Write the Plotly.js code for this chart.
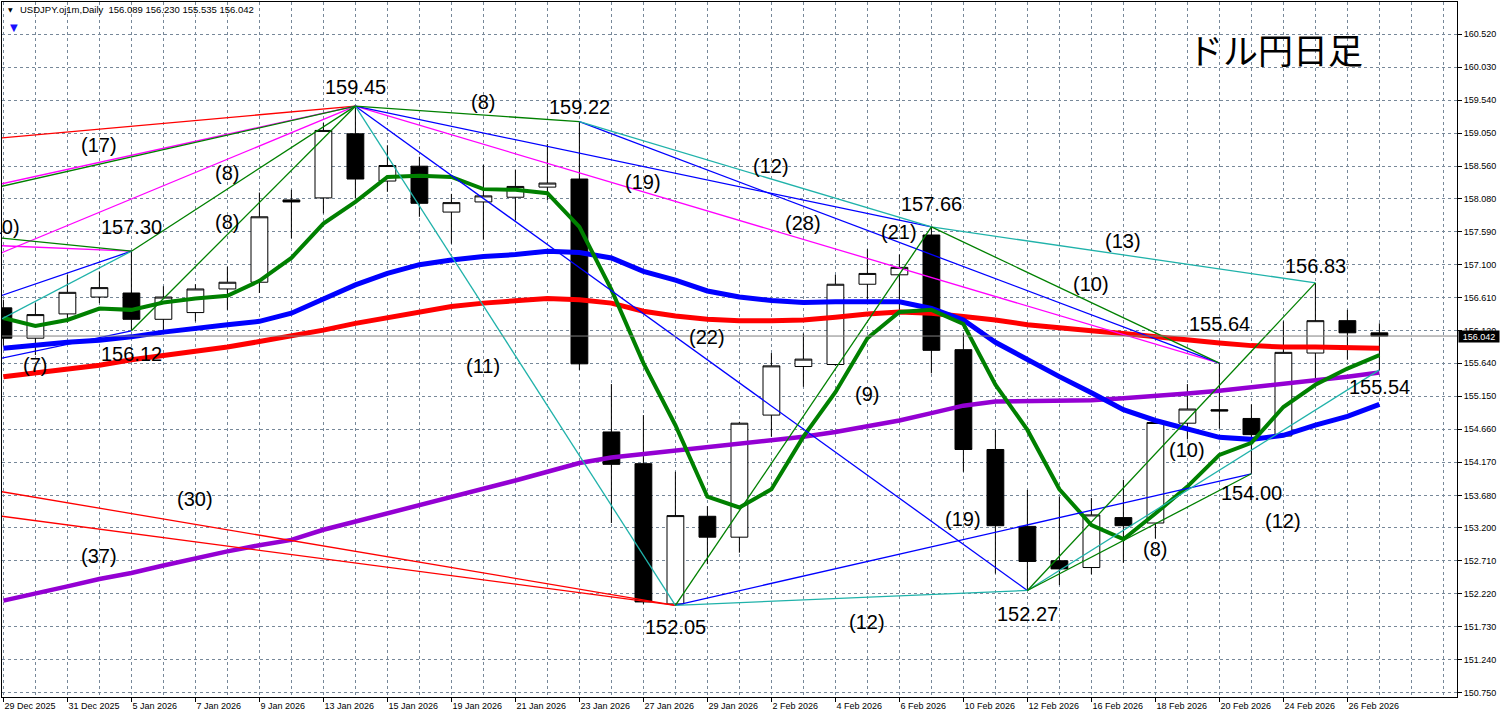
<!DOCTYPE html>
<html><head><meta charset="utf-8">
<script src="https://cdn.plot.ly/plotly-3.0.1.min.js"></script>
<style>html,body{margin:0;padding:0;background:#fff;} #chart{width:1503px;height:718px;}</style>
</head><body><div id="chart"></div>
<script>
// ---- data ----
const dates = ['29 Dec 2025','30 Dec 2025','31 Dec 2025','2 Jan 2026','5 Jan 2026','6 Jan 2026','7 Jan 2026','8 Jan 2026','9 Jan 2026','12 Jan 2026','13 Jan 2026','14 Jan 2026','15 Jan 2026','16 Jan 2026','19 Jan 2026','20 Jan 2026','21 Jan 2026','22 Jan 2026','23 Jan 2026','26 Jan 2026','27 Jan 2026','28 Jan 2026','29 Jan 2026','30 Jan 2026','2 Feb 2026','3 Feb 2026','4 Feb 2026','5 Feb 2026','6 Feb 2026','9 Feb 2026','10 Feb 2026','11 Feb 2026','12 Feb 2026','13 Feb 2026','16 Feb 2026','17 Feb 2026','18 Feb 2026','19 Feb 2026','20 Feb 2026','23 Feb 2026','24 Feb 2026','25 Feb 2026','26 Feb 2026','27 Feb 2026'];
const open  = [156.46,156.01,156.37,156.62,156.68,156.29,156.39,156.74,156.84,158.06,158.09,159.04,158.34,158.56,157.88,158.03,158.10,158.25,158.37,154.62,154.15,152.07,153.37,153.06,154.87,155.59,155.62,156.81,156.95,157.54,155.84,154.36,153.22,152.71,152.61,153.35,153.27,154.75,154.95,154.82,154.56,155.79,156.27,156.089];
const high  = [156.58,156.53,156.95,157.00,157.30,156.78,156.81,157.07,158.17,158.21,159.20,159.45,158.87,158.70,158.15,158.58,158.51,158.89,159.22,155.33,154.87,154.03,153.52,154.77,155.79,156.08,156.95,157.33,157.25,157.66,156.08,154.65,153.76,153.66,153.64,153.91,154.78,155.33,155.64,155.03,156.26,156.83,156.43,156.230];
const low   = [155.90,155.76,156.24,156.53,156.12,156.13,156.26,156.43,156.68,157.49,157.86,158.08,158.18,157.81,157.41,157.47,157.76,158.06,155.54,153.27,152.07,152.05,152.66,152.83,154.55,155.29,155.60,156.58,156.43,155.49,154.03,152.52,152.27,152.35,152.51,152.68,153.04,154.51,154.67,154.00,154.55,155.42,155.69,155.535];
const close = [156.01,156.36,156.69,156.76,156.29,156.62,156.74,156.84,157.81,158.03,159.09,158.37,158.57,158.01,158.02,158.12,158.26,158.31,155.63,154.14,152.10,153.38,153.06,154.75,155.60,155.70,156.81,156.97,157.06,155.83,154.36,153.23,152.70,152.59,153.39,153.23,154.76,154.96,154.93,154.58,155.80,156.27,156.09,156.042];

const maGreen  = [156.31,156.19,156.28,156.45,156.43,156.54,156.60,156.64,156.86,157.20,157.71,158.03,158.40,158.42,158.40,158.22,158.21,158.16,157.66,156.73,155.64,154.72,153.66,153.50,153.77,154.55,155.21,156.01,156.40,156.43,156.22,155.32,154.65,153.77,153.24,153.03,153.41,153.81,154.28,154.46,154.99,155.32,155.56,155.76];
const maBlue   = [155.86,155.91,155.95,155.98,156.03,156.10,156.16,156.21,156.26,156.38,156.59,156.80,156.97,157.10,157.17,157.22,157.25,157.30,157.28,157.20,157.00,156.87,156.71,156.62,156.57,156.54,156.55,156.55,156.55,156.45,156.28,155.95,155.69,155.44,155.20,154.95,154.79,154.66,154.54,154.51,154.57,154.72,154.85,155.03];
const maRed    = [155.44,155.50,155.55,155.61,155.69,155.75,155.82,155.88,155.96,156.04,156.13,156.23,156.31,156.39,156.48,156.53,156.56,156.60,156.58,156.53,156.41,156.34,156.29,156.27,156.27,156.28,156.32,156.37,156.40,156.38,156.33,156.28,156.21,156.16,156.12,156.08,156.03,155.98,155.94,155.90,155.88,155.88,155.87,155.86];
const maPurple = [152.12,152.22,152.33,152.44,152.53,152.64,152.75,152.85,152.94,153.02,153.17,153.29,153.41,153.54,153.66,153.78,153.90,154.03,154.16,154.24,154.29,154.34,154.39,154.44,154.49,154.55,154.62,154.71,154.79,154.90,155.01,155.07,155.08,155.08,155.09,155.12,155.15,155.19,155.23,155.28,155.33,155.38,155.44,155.50];

const yTicks = [160.52,160.03,159.54,159.05,158.56,158.08,157.59,157.10,156.61,156.12,155.64,155.15,154.66,154.17,153.68,153.20,152.71,152.22,151.73,151.24,150.75];

// swing pivots (bar index, price)
const pivotKeys  = ['A','B','C','D','E','F','G','H','I','P0','P0L'];
const pivotBar   = [11,18,21,29,32,38,39,41,43,4,4];
const pivotPrice = [159.45,159.22,152.05,157.66,152.27,155.64,154.00,156.83,155.54,157.30,156.12];
// earlier anchors of lines entering from the left edge
const edgeKeys  = ['R0','M0','G0','M1','G1','M2','B0','C0','B1','R1','R2'];
const edgeBar   = [-1,-1,-1,-1,-1,-1,-1,-1,-1,-1,-1];
const edgePrice = [158.94,158.20,158.16,157.09,157.54,157.40,156.49,156.06,155.62,153.81,153.43];

const greenLines   = [['G0','A'],['P0','A'],['P0L','A'],['G1','P0'],['A','B'],['C','D'],['D','F'],['E','H'],['E','G']];
const magentaLines = [['M0','A'],['M1','A'],['M2','P0'],['A','F']];
const blueLines    = [['B0','P0'],['B1','P0L'],['A','D'],['A','E'],['B','F'],['C','G']];
const cyanLines    = [['C0','P0'],['A','C'],['B','D'],['D','H'],['C','E'],['E','I']];
const redLines     = [['R0','A'],['R1','C'],['R2','C']];

const countText = ['(17)','(8)','(8)','(10)','(7)','(8)','(19)','(12)','(28)','(21)','(22)','(11)','(9)','(13)','(10)','(10)','(19)','(8)','(12)','(12)','(30)','(37)'];
const countBar  = [3,7,7,0,1,15,20,24,25,28,22,15,27,35,34,37,30,36,40,27,6,3];
const countPrice= [158.874,158.459,157.733,157.659,155.613,159.516,158.33,158.563,157.718,157.584,156.028,155.598,155.183,157.444,156.814,154.352,153.329,152.885,153.30,151.807,153.626,152.781];

// ---- layout helpers ----
const FONT = 'Liberation Sans, Arial, sans-serif';
const idx = dates.map((d,i)=>i);
const last = close.length-1;
const pivotShift = {A:19,B:15,C:-22,D:23,E:-24,F:38.7,G:-19.7,H:17,I:-17.3,P0:24.5,P0L:-23};

function pt(key){
  let k = pivotKeys.indexOf(key);
  if (k >= 0) return [pivotBar[k], pivotPrice[k]];
  k = edgeKeys.indexOf(key);
  return [edgeBar[k], edgePrice[k]];
}
function lineTrace(pairs, color){
  const x=[], y=[];
  pairs.forEach(([a,b])=>{ const p=pt(a), q=pt(b); x.push(p[0],q[0],null); y.push(p[1],q[1],null); });
  return {type:'scatter', mode:'lines', x, y, line:{color, width:1.3}, hoverinfo:'skip', showlegend:false};
}
function maTrace(vals, color, w){
  return {type:'scatter', mode:'lines', x:idx, y:vals, line:{color, width:w}, hoverinfo:'skip', showlegend:false};
}

const traces = [
  {type:'candlestick', x:idx, open, high, low, close,
   increasing:{line:{color:'#000', width:1}, fillcolor:'#fff'},
   decreasing:{line:{color:'#000', width:1}, fillcolor:'#000'},
   whiskerwidth:0, hoverinfo:'skip', showlegend:false},
  maTrace(maPurple,'#9400D3',4.5),
  maTrace(maRed,'#FF0000',5),
  maTrace(maBlue,'#0000FF',5),
  maTrace(maGreen,'#008000',4),
  lineTrace(redLines,'#FF0000'),
  lineTrace(magentaLines,'#FF00FF'),
  lineTrace(blueLines,'#0000FF'),
  lineTrace(cyanLines,'#20B2AA'),
  lineTrace(greenLines,'#008000')
];

const annotations = [];
pivotKeys.forEach((k,j)=>{
  annotations.push({x:pivotBar[j], y:pivotPrice[j], xref:'x', yref:'y', text:pivotPrice[j].toFixed(2),
    showarrow:false, xanchor:'center', yanchor:'middle', yshift:pivotShift[k], font:{family:FONT, size:20, color:'#000'}});
});
countText.forEach((t,j)=>{
  annotations.push({x:countBar[j], y:countPrice[j], xref:'x', yref:'y', text:t, showarrow:false,
    xanchor:'center', yanchor:'middle',
    xshift:(countBar[j]===0 && t==='(10)')?-1.2:0, font:{family:FONT, size:20, color:'#000'}});
});
const px = v => (v-2)/1455, py = v => (697-v)/695;
annotations.push({xref:'paper', yref:'paper', x:px(1275), y:py(48), xanchor:'center', yanchor:'middle', text:'ドル円日足', showarrow:false,
  font:{family:'Noto Sans CJK JP, sans-serif', size:35, color:'#000'}});
annotations.push({xref:'paper', yref:'paper', x:px(18), y:py(10), xanchor:'left', yanchor:'middle',
  text:'USDJPY.oj1m,Daily\u00a0\u00a0'+[open[last],high[last],low[last],close[last]].map(v=>v.toFixed(3)).join('\u00a0'),
  showarrow:false, font:{family:FONT, size:9.5, color:'#000'}});
annotations.push({xref:'paper', yref:'paper', x:px(10), y:py(10), xanchor:'center', yanchor:'middle', text:'▼', showarrow:false,
  font:{family:'DejaVu Sans', size:6, color:'#000'}});
annotations.push({xref:'paper', yref:'paper', x:px(14), y:py(27), xanchor:'center', yanchor:'middle', text:'▼', showarrow:false,
  font:{family:'DejaVu Sans', size:10, color:'#1a10ff'}});
annotations.push({xref:'paper', yref:'y', x:1, y:close[last], xanchor:'left', yanchor:'middle', xshift:1, text:close[last].toFixed(3),
  showarrow:false, bgcolor:'#000', width:40, height:11, borderpad:0, font:{family:FONT, size:9, color:'#fff'}});

const evenIdx = idx.filter(i=>i%2===0);
const grid = '#778899';
const layout = {
  width:1503, height:718, margin:{l:2, r:46, t:2, b:21},
  paper_bgcolor:'#fff', plot_bgcolor:'#fff', showlegend:false, boxgap:0.25,
  xaxis:{range:[-0.04375,45.425], tickmode:'array', tickvals:evenIdx, ticktext:evenIdx.map(i=>dates[i]),
    ticks:'outside', ticklen:4, tickcolor:'#000', ticklabelposition:'outside right',
    tickfont:{family:FONT, size:9, color:'#000'},
    showgrid:true, gridcolor:grid, griddash:'3px,3px', gridwidth:1,
    minor:{dtick:1, tick0:0, showgrid:true, gridcolor:grid, griddash:'3px,3px', gridwidth:1, ticks:''},
    showline:true, linecolor:'#000', linewidth:1, mirror:true, zeroline:false,
    rangeslider:{visible:false}, fixedrange:true},
  yaxis:{side:'right', range:[150.6905,160.9944], tickmode:'array', tickvals:yTicks, ticktext:yTicks.map(v=>v.toFixed(3)),
    ticks:'outside', ticklen:4, tickcolor:'#000', tickfont:{family:FONT, size:9, color:'#000'},
    showgrid:true, gridcolor:grid, griddash:'3px,3px', gridwidth:1,
    showline:true, linecolor:'#000', linewidth:1, mirror:true, zeroline:false, fixedrange:true},
  shapes:[{type:'line', xref:'paper', x0:0, x1:1, yref:'y', y0:close[last], y1:close[last],
    line:{color:'#808080', width:1}, layer:'above'}],
  annotations
};
Plotly.newPlot('chart', traces, layout, {staticPlot:true, displayModeBar:false});
</script></body></html>
